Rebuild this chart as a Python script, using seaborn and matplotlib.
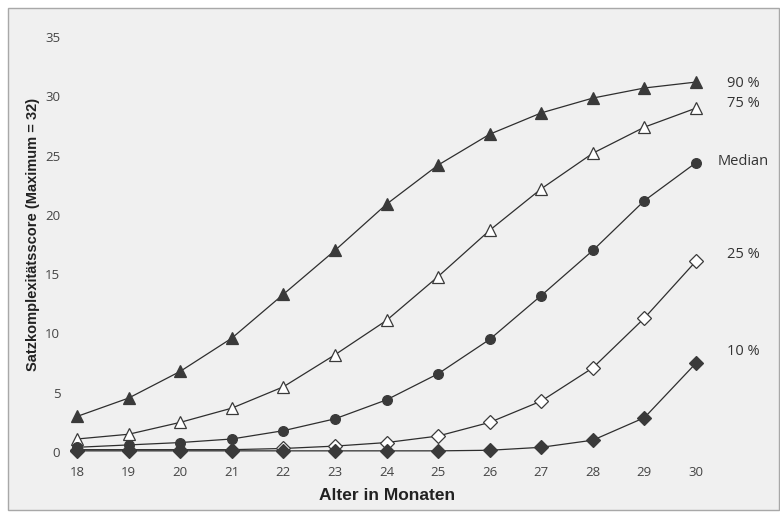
import matplotlib

matplotlib.use("Agg")
import matplotlib.pyplot as plt
import seaborn as sns
from matplotlib.patches import Rectangle

# ───────────────────────────────────────────────────────────────
# Data
# ───────────────────────────────────────────────────────────────
ages = [18, 19, 20, 21, 22, 23, 24, 25, 26, 27, 28, 29, 30]

p90 = [3.0, 4.55, 6.8, 9.6, 13.3, 17.0, 20.9, 24.2, 26.8, 28.6, 29.85, 30.7, 31.2]
p75 = [1.1, 1.5, 2.5, 3.7, 5.5, 8.2, 11.1, 14.8, 18.7, 22.2, 25.2, 27.4, 29.0]
median = [0.4, 0.6, 0.8, 1.1, 1.8, 2.8, 4.4, 6.6, 9.5, 13.2, 17.0, 21.2, 24.4]
p25 = [0.2, 0.2, 0.2, 0.2, 0.3, 0.5, 0.8, 1.35, 2.5, 4.3, 7.1, 11.3, 16.1]
p10 = [0.1, 0.1, 0.1, 0.1, 0.1, 0.1, 0.1, 0.1, 0.15, 0.4, 1.0, 2.9, 7.5]

series_labels = ["90 %", "75 %", "Median", "25 %", "10 %"]
label_y = [31.1, 29.4, 24.5, 16.7, 8.5]

y_ticks = [0, 5, 10, 15, 20, 25, 30, 35]

# ───────────────────────────────────────────────────────────────
# Styling
# ───────────────────────────────────────────────────────────────
DARK = "#3a3a3a"
LINE = "#2e2e2e"
BG = "#f0f0f0"
TICK_FONT = ["Open Sans", "DejaVu Sans"]
LABEL_FONT = ["Liberation Sans", "DejaVu Sans"]

sns.set_style("white")

styles = [
    dict(data=p90, marker="^", mfc=DARK, ms=9),
    dict(data=p75, marker="^", mfc="white", ms=9),
    dict(data=median, marker="o", mfc=DARK, ms=7),
    dict(data=p25, marker="D", mfc="white", ms=7),
    dict(data=p10, marker="D", mfc=DARK, ms=7.5),
]

fig = plt.figure(figsize=(7.8, 5.12), dpi=100, facecolor="white")
fig.patches.append(
    Rectangle((8 / 780, 2 / 512), 771 / 780, 502 / 512, transform=fig.transFigure,
              facecolor=BG, edgecolor="#a8a8a8", linewidth=1.0, zorder=-10)
)

# axes spanning px 70..720 (x) and 30..462 (y)
ax = fig.add_axes([70 / 780, 50 / 512, 650 / 780, 432 / 512])
ax.set_facecolor("none")

for st in styles:
    sns.lineplot(
        x=ages, y=st["data"], ax=ax, color=LINE, linewidth=0.9,
        marker=st["marker"], markersize=st["ms"], markerfacecolor=st["mfc"],
        markeredgecolor=DARK, markeredgewidth=0.9, zorder=3,
    )

for lab, yy in zip(series_labels, label_y):
    ax.text(30.91, yy, lab, ha="center", va="center", fontsize=10.5,
            color="#333333", family=TICK_FONT)

ax.set_xlim(17.864, 30.465)
ax.set_ylim(-0.84, 35.59)
ax.set_xticks(ages)
ax.set_yticks(y_ticks)
ax.tick_params(axis="both", length=0, labelsize=9.5, labelcolor="#444444")
ax.tick_params(axis="x", pad=3)
ax.tick_params(axis="y", pad=7)
for lbl in ax.get_xticklabels() + ax.get_yticklabels():
    lbl.set_family(TICK_FONT)
for sp in ax.spines.values():
    sp.set_visible(False)

ax.set_xlabel("Alter in Monaten", fontsize=12.5, fontweight="bold",
              family=LABEL_FONT, color="#222222")
ax.xaxis.set_label_coords((387 - 70) / 650, (462 - 496) / 432)
ax.set_ylabel("Satzkomplexitätsscore (Maximum = 32)", fontsize=10.5,
              fontweight="bold", family=LABEL_FONT, color="#222222")
ax.yaxis.set_label_coords((33 - 70) / 650, (462 - 234) / 432)
ax.xaxis.label.set_va("center")
ax.yaxis.label.set_va("center")

fig.savefig("out.png", dpi=100, facecolor=fig.get_facecolor())
